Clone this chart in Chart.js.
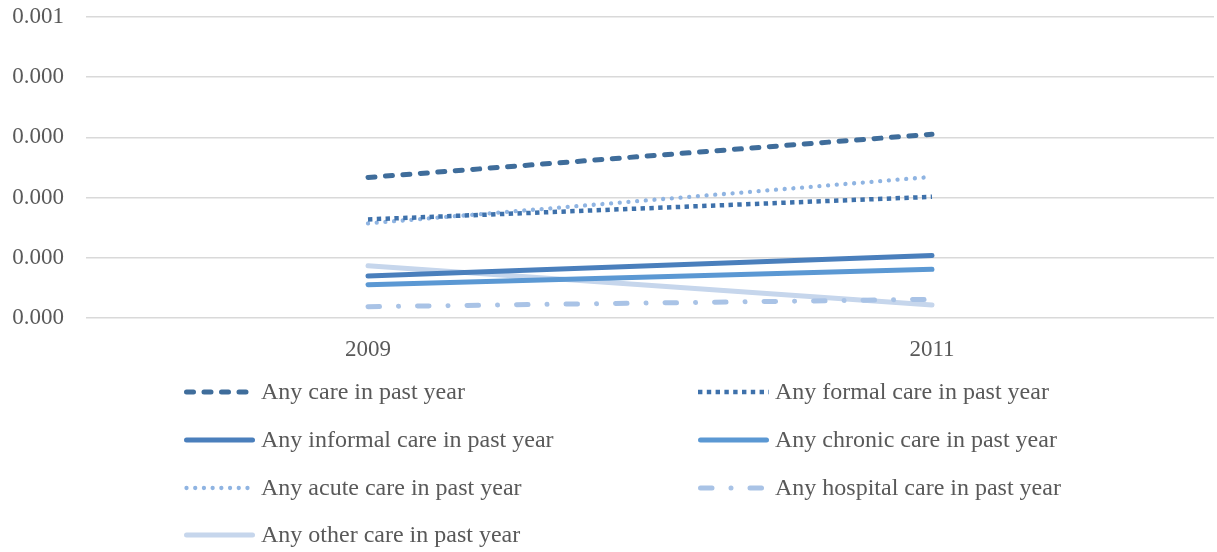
<!DOCTYPE html>
<html>
<head>
<meta charset="utf-8">
<script src="https://cdn.jsdelivr.net/npm/chart.js@4/dist/chart.umd.min.js"></script>
<style>
html,body{margin:0;padding:0;background:#fff;}
#wrap{width:1217px;height:552px;position:relative;}
</style>
</head>
<body>
<div id="wrap"><canvas id="c" width="1217" height="552"></canvas></div>
<script>
const categories = ['2009', '2011'];
const seriesNames = [
  'Any care in past year',
  'Any formal care in past year',
  'Any informal care in past year',
  'Any chronic care in past year',
  'Any acute care in past year',
  'Any hospital care in past year',
  'Any other care in past year'
];
const anyCare      = [0.0002335, 0.0003053];
const formalCare   = [0.0001638, 0.0002013];
const informalCare = [0.0000697, 0.0001040];
const chronicCare  = [0.0000553, 0.0000808];
const acuteCare    = [0.0001572, 0.0002345];
const hospitalCare = [0.0000188, 0.0000310];
const otherCare    = [0.0000868, 0.0000216];
const yTickValues  = [0, 0.0001, 0.0002, 0.0003, 0.0004, 0.0005];
const yTickLabels  = ['0.000', '0.000', '0.000', '0.000', '0.000', '0.001'];

const seriesValues = [anyCare, formalCare, informalCare, chronicCare, acuteCare, hospitalCare, otherCare];
const styles = [
  {color:'#3f6d9b', width:5, dash:[7,10.5], cap:'round'},
  {color:'#3e71ab', width:4.5, dash:[4.4,4.4], cap:'butt'},
  {color:'#4a7fbc', width:5, dash:[], cap:'round'},
  {color:'#5b98d3', width:5, dash:[], cap:'round'},
  {color:'#8fb4e2', width:4.3, dash:[0.01,8.7], cap:'round'},
  {color:'#a9c3e6', width:5, dash:[11.5,19,0.01,19], cap:'round'},
  {color:'#c6d6ec', width:5, dash:[], cap:'round'}
];

const FONT = '"Liberation Serif", "Times New Roman", serif';

const datasets = seriesNames.map((name, i) => ({
  label: name,
  data: seriesValues[i],
  borderColor: styles[i].color,
  backgroundColor: styles[i].color,
  borderWidth: styles[i].width,
  borderDash: styles[i].dash,
  borderCapStyle: styles[i].cap,
  pointRadius: 0,
  pointHoverRadius: 0,
  fill: false,
  tension: 0
}));

const legendPlugin = {
  id: 'customLegend',
  afterDraw(chart) {
    const ctx = chart.ctx;
    const colSample = [184, 698];
    const sampleLen = 71;
    const colText = [261, 775];
    const rowY = [392, 440, 488, 535];
    ctx.save();
    chart.data.datasets.forEach((ds, i) => {
      const col = i % 2, row = Math.floor(i / 2);
      const y = rowY[row];
      ctx.beginPath();
      ctx.strokeStyle = ds.borderColor;
      ctx.lineWidth = ds.borderWidth;
      ctx.lineCap = ds.borderCapStyle;
      ctx.setLineDash(ds.borderDash);
      const r = ds.borderCapStyle === 'round' ? 2.5 : 0;
      ctx.moveTo(colSample[col] + r, y);
      ctx.lineTo(colSample[col] + sampleLen - r, y);
      ctx.stroke();
      ctx.setLineDash([]);
      ctx.fillStyle = '#595959';
      ctx.font = '24px ' + FONT;
      ctx.textBaseline = 'middle';
      ctx.textAlign = 'left';
      ctx.fillText(ds.label, colText[col], y + 1);
    });
    ctx.restore();
  }
};

new Chart(document.getElementById('c'), {
  type: 'line',
  data: { labels: categories, datasets },
  options: {
    responsive: false,
    animation: false,
    devicePixelRatio: 1,
    layout: { padding: { top: 0, right: 3, bottom: 0, left: 0 } },
    plugins: { legend: { display: false }, tooltip: { enabled: false } },
    scales: {
      x: {
        offset: true,
        grid: { display: false, drawTicks: false },
        border: { display: false },
        ticks: { color: '#595959', font: { family: FONT, size: 23 }, padding: 18, maxRotation: 0 },
        afterFit(scale) { scale.height = 234; }
      },
      y: {
        min: 0,
        max: 0.0005,
        afterBuildTicks(scale) { scale.ticks = yTickValues.map(v => ({ value: v })); },
        grid: { color: '#d9d9d9', lineWidth: 1.5, drawTicks: false },
        border: { display: false },
        ticks: {
          color: '#595959',
          font: { family: FONT, size: 23 },
          padding: 22,
          callback(value, index) { return yTickLabels[index]; }
        },
        afterFit(scale) { scale.width = 86; scale.paddingTop = 17; scale.paddingBottom = 0; }
      }
    }
  },
  plugins: [legendPlugin]
});
</script>
</body>
</html>
